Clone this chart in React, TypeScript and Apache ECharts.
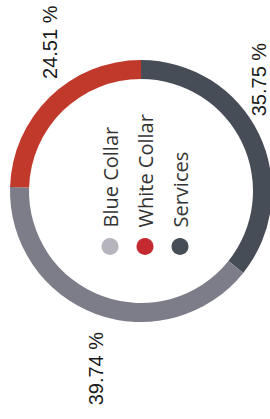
import React, { useEffect, useRef } from 'react';
import * as echarts from 'echarts';

const categories = ['Services', 'Blue Collar', 'White Collar'];
const values = [35.75, 39.74, 24.51];
const sliceColors = ['#474d57', '#7c7d88', '#c0392b'];
const legendOrder = ['Blue Collar', 'White Collar', 'Services'];
const legendIconColors = ['#b6b5bd', '#c42a30', '#474d57'];

export default function App() {
  const ref = useRef<HTMLDivElement>(null);
  useEffect(() => {
    document.body.style.margin = '0';
    const chart = echarts.init(ref.current!, undefined, { renderer: 'svg' });
    chart.setOption({
      animation: false,
      legend: {
        orient: 'vertical',
        left: 159,
        top: 95,
        icon: 'circle',
        itemWidth: 28,
        itemHeight: 17,
        itemGap: 15,
        selectedMode: false,
        textStyle: { fontFamily: 'Open Sans', fontSize: 20, color: '#333333' },
        data: legendOrder.map((n, i) => ({ name: n, itemStyle: { color: legendIconColors[i] } })),
      },
      series: [
        {
          type: 'pie',
          center: [228, 141],
          radius: [112, 131],
          startAngle: 0,
          clockwise: true,
          avoidLabelOverlap: false,
          label: {
            show: true,
            position: 'outside',
            fontFamily: 'Liberation Sans, Arial',
            fontSize: 20,
            color: '#1a1a1a',
            edgeDistance: 0,
            distanceToLabelLine: 5,
            formatter: (p: any) => `${Number(p.value).toFixed(2)} %`,
          },
          labelLine: { show: false, length: 0, length2: 13 },
          emphasis: { disabled: true },
          data: categories.map((c, i) => ({ name: c, value: values[i], itemStyle: { color: sliceColors[i] } })),
        },
      ],
    });
    return () => chart.dispose();
  }, []);
  return (
    <div
      ref={ref}
      style={{
        position: 'absolute',
        left: 0,
        top: 0,
        width: 419,
        height: 270,
        transformOrigin: '0 0',
        transform: 'translate(0px, 419px) rotate(-90deg)',
      }}
    />
  );
}
